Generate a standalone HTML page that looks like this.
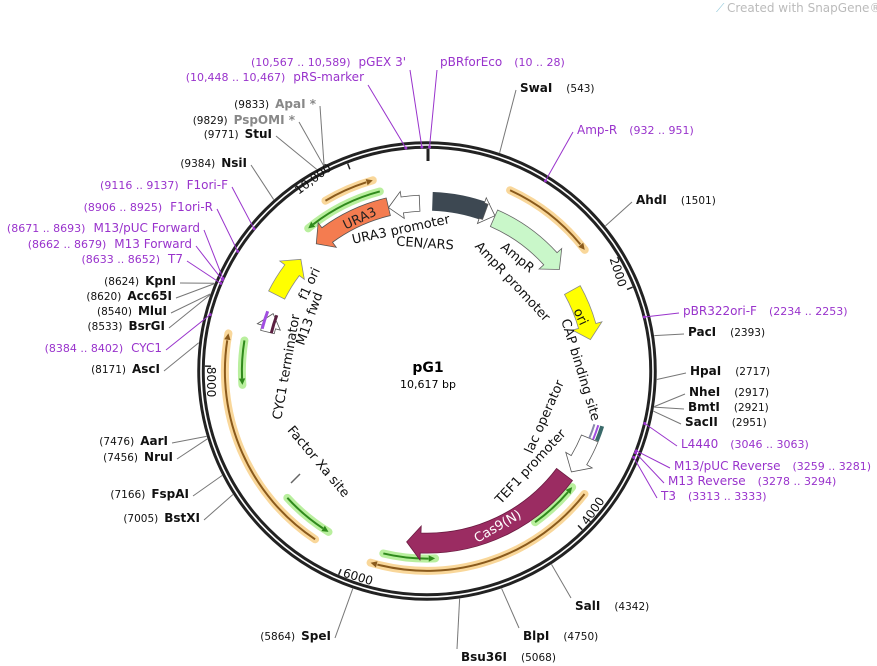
<!DOCTYPE html>
<html><head><meta charset="utf-8"><style>
html,body{margin:0;padding:0;background:#fff;}
svg{display:block;font-family:"DejaVu Sans","Liberation Sans",sans-serif;}
</style></head><body>
<svg id="s" width="877" height="666" viewBox="0 0 877 666" xmlns="http://www.w3.org/2000/svg">
<text x="727" y="12" font-size="12" fill="#bbb">Created with SnapGene®</text>
<text x="716" y="12" font-size="12" fill="#9cd">⟋</text>
<circle cx="427" cy="371" r="226" fill="none" stroke="#222" stroke-width="7.5"/>
<circle cx="427" cy="371" r="226" fill="none" stroke="#fff" stroke-width="1.6"/>
<line x1="428" y1="149" x2="428" y2="161" stroke="#222" stroke-width="3"/>
<g id="g"></g>
<text x="428" y="372" font-size="14" font-weight="bold" text-anchor="middle">pG1</text>
<text x="428" y="388" font-size="11" text-anchor="middle">10,617 bp</text>
</svg>
<script>
var NS="http://www.w3.org/2000/svg",G=document.getElementById('g'),CX=427,CY=371;
function el(t,a,txt){var e=document.createElementNS(NS,t);for(var k in a)e.setAttribute(k,a[k]);if(txt!=null)e.textContent=txt;G.appendChild(e);return e;}
function P(r,d){var a=d*Math.PI/180;return [CX+r*Math.sin(a),CY-r*Math.cos(a)];}
function PO(r,d){var a=d*Math.PI/180;return [429+r*Math.sin(a),383-r*Math.cos(a)];}
function conv(r,a){var p=PO(r,a),dx=p[0]-CX,dy=p[1]-CY;var na=Math.atan2(dx,-dy)*180/Math.PI;while(na-a>180)na-=360;while(a-na>180)na+=360;return [Math.hypot(dx,dy),na];}
function bpd(b){return b/10617*360;}
function arcPath(r,a0,a1){var p0=P(r,a0),p1=P(r,a1),la=Math.abs(a1-a0)>180?1:0,sw=a1>a0?1:0;return "M"+p0[0]+" "+p0[1]+" A"+r+" "+r+" 0 "+la+" "+sw+" "+p1[0]+" "+p1[1];}
function head(r,a,dir,col,sz){
 sz=sz||5;var t=P(r,a),b=a-dir*sz*180/Math.PI/r*1.6;var p1=P(r-sz*0.8,b),p2=P(r+sz*0.8,b);
 el('path',{d:"M"+t+" L"+p1+" L"+p2+" Z",fill:col});}
function prim(r,a0,a1,tip,kind){
 var c0=conv(r,a0),c1=conv(r,a1);var wasEnd=(tip==a1);r=(c0[0]+c1[0])/2;a0=c0[1];a1=c1[1];tip=wasEnd?a1:a0;
 var halo=kind=='o'?'#f9d79a':'#b9ef9e',line=kind=='o'?'#8a5a1c':'#2f8a1c';
 el('path',{d:arcPath(r,a0,a1),fill:'none',stroke:halo,'stroke-width':8,'stroke-linecap':'round'});
 var dir=wasEnd?(a1>a0?1:-1):(a0>a1?1:-1);
 var s=wasEnd?a0:a1,e=tip-dir*2;
 el('path',{d:arcPath(r,s,e),fill:'none',stroke:line,'stroke-width':2});
 head(r,tip,dir,line,4);}
function band(r1,r2,a0,a1,tipA,fill,stroke){
 var rm=(r1+r2)/2,hw=(r2-r1)/2,c0=conv(rm,a0),c1=conv(rm,a1);rm=(c0[0]+c1[0])/2;r1=rm-hw;r2=rm+hw;a0=c0[1];a1=c1[1];
 var s=stroke||'#666';
 if(tipA==null){var p=arcPath(r2,a0,a1)+" L"+P(r1,a1)+" "+arcPath(r1,a1,a0).replace(/^M[^A]*/,'')+" Z";
  el('path',{d:p,fill:fill,stroke:s,'stroke-width':0.8});return;}
 var dir=a1>a0?1:-1,hl=14*180/Math.PI/rm*dir;var hb=a1-hl,w=(r2-r1)*0.35;
 var d=arcPath(r2,a0,hb)+" L"+P(r2+w,hb)+" L"+P(rm,a1)+" L"+P(r1-w,hb)+" L"+P(r1,hb)+" "+arcPath(r1,hb,a0).replace(/^M[^A]*/,'')+" Z";
 el('path',{d:d,fill:fill,stroke:s,'stroke-width':0.8});}
function arcO(r,a0,a1,attrs){var c0=conv(r,a0),c1=conv(r,a1);attrs.d=arcPath((c0[0]+c1[0])/2,c0[1],c1[1]);attrs.fill='none';el('path',attrs);}
function rt(x,y,rot,txt,sz,col,w){el('text',{x:x,y:y,'font-size':sz||13,fill:col||'#111','font-weight':w||'normal','text-anchor':'middle','dominant-baseline':'central',transform:'rotate('+rot+' '+x+' '+y+')'},txt);}

prim(207,22.8,49.5,49.5,'o');
prim(210,-29.6,-15.5,-15.5,'o');
prim(200,-144,-76,-76,'o');
prim(190,125.5,198,198,'o');
prim(197,-14.4,-38,-38,'g');
prim(188,-77,-90.6,-90.6,'g');
prim(181,-129,-146,-146,'g');
prim(176,195,178,178,'g');
prim(176,142.7,126,126,'g');
band(172,190,1.2,18.5,null,'#3d4852','#3d4852');
band(172,188,18.2,21.5,21.5,'#fff','#555');
band(166,184,21.5,49,49,'#c9f7c9','#666');
band(160,178,57,75,75,'#ffff00','#888');
band(171,189,-13,-39,-39,'#f47c50','#555');
band(172,188,-3,-13,-13,'#fff','#555');
band(168,186,-60,-46,-46,'#ffff00','#888');
band(152,172,124,188,188,'#9b2c62','#6a1a40');
band(160,178,109,122,122,'#fff','#555');
band(163,177,-72.5,-66,-66,'#fff','#555');
arcO(166,-72.5,-66,{stroke:'#5a2040','stroke-width':3});
arcO(176,-72,-66,{stroke:'#a14ee0','stroke-width':3});
arcO(178,104,109,{stroke:'#3a6a6a','stroke-width':4});
arcO(174,104,109,{stroke:'#a14ee0','stroke-width':2});
arcO(170,104,109,{stroke:'#88a','stroke-width':2});
el('line',{x1:291,y1:483,x2:300,y2:474,stroke:'#666','stroke-width':1.5});

rt(360,219,-25,'URA3',13,'#222');
rt(401,230,-12,'URA3 promoter');
rt(425,244,4,'CEN/ARS');
rt(517,258,40,'AmpR');
rt(512,282,47,'AmpR promoter');
rt(580,317,65,'ori');
rt(580,370,73,'CAP binding site');
rt(545,417,-66,'lac operator');
rt(531,467,-47,'TEF1 promoter');
rt(498,527,-30,'Cas9(N)',13,'#fff');
rt(318,462,50,'Factor Xa site');
rt(287,367,-80,'CYC1 terminator');
rt(310,319,-70,'M13 fwd');
rt(310,284,-65,'f1 ori');
rt(313,179,-37,'10,000',12);
rt(618,272,72,'2000',12);
rt(593,511,-55,'4000',12);
rt(358,577,17,'6000',12);
rt(211,382,90,'8000',12);
[10000,2000,4000,6000,8000].forEach(function(t){var a=bpd(t),p=P(222,a),q=P(216,a);el('line',{x1:p[0],y1:p[1],x2:q[0],y2:q[1],stroke:'#222','stroke-width':1.5});});

var PUR='#9933cc';
var L=[[406,62,'(10,567 .. 10,589)','pGEX 3\'',10578,'p'],[364,77,'(10,448 .. 10,467)','pRS-marker',10457,'p'],
[316,104,'(9833)','ApaI *',9833,'x'],[295,120,'(9829)','PspOMI *',9829,'x'],[272,134,'(9771)','StuI',9771,'e'],
[247,163,'(9384)','NsiI',9384,'e'],[228,185,'(9116 .. 9137)','F1ori-F',9126,'p'],[213,207,'(8906 .. 8925)','F1ori-R',8915,'p'],
[200,228,'(8671 .. 8693)','M13/pUC Forward',8682,'p'],[192,244,'(8662 .. 8679)','M13 Forward',8670,'p'],[183,259,'(8633 .. 8652)','T7',8642,'p'],
[176,281,'(8624)','KpnI',8624,'e'],[172,296,'(8620)','Acc65I',8620,'e'],[167,311,'(8540)','MluI',8540,'e'],[165,326,'(8533)','BsrGI',8533,'e'],
[162,348,'(8384 .. 8402)','CYC1',8393,'p'],[160,369,'(8171)','AscI',8171,'e'],[168,441,'(7476)','AarI',7476,'e'],[173,457,'(7456)','NruI',7456,'e'],
[189,494,'(7166)','FspAI',7166,'e'],[200,518,'(7005)','BstXI',7005,'e'],[331,636,'(5864)','SpeI',5864,'e']];
L.forEach(function(l){var t=el('text',{x:l[0],y:l[1]+4,'text-anchor':'end','font-size':11});
 var c=l[5]=='p'?PUR:(l[5]=='x'?'#888':'#111');
 var s1=document.createElementNS(NS,'tspan');s1.setAttribute('fill',l[5]=='p'?PUR:'#111');s1.setAttribute('font-size',l[5]=='p'?11:10.5);s1.textContent=l[2];t.appendChild(s1);
 var s2=document.createElementNS(NS,'tspan');s2.setAttribute('dx',l[5]=='p'?8:6);s2.setAttribute('fill',c);s2.setAttribute('font-size',12);if(l[5]!='p')s2.setAttribute('font-weight','bold');s2.textContent=l[3];t.appendChild(s2);
 var p=P(l[5]=='p'?224:230,bpd(l[4]));var sx=l[0]+4,sy=l[1]+(l[1]<100?8:2);
 el('line',{x1:sx,y1:sy,x2:p[0],y2:p[1],stroke:l[5]=='p'?PUR:'#777','stroke-width':1});
 if(l[5]=='p')el('circle',{cx:p[0],cy:p[1],r:1.5,fill:PUR});});
var R=[[440,62,'pBRforEco','(10 .. 28)',19,'p'],[520,88,'SwaI','(543)',543,'e'],[577,130,'Amp-R','(932 .. 951)',941,'p'],[636,200,'AhdI','(1501)',1501,'e'],
[683,311,'pBR322ori-F','(2234 .. 2253)',2243,'p'],[688,332,'PacI','(2393)',2393,'e'],[690,371,'HpaI','(2717)',2717,'e'],[689,392,'NheI','(2917)',2917,'e'],
[688,407,'BmtI','(2921)',2921,'e'],[685,422,'SacII','(2951)',2951,'e'],[681,444,'L4440','(3046 .. 3063)',3054,'p'],[674,466,'M13/pUC Reverse','(3259 .. 3281)',3270,'p'],
[668,481,'M13 Reverse','(3278 .. 3294)',3286,'p'],[661,496,'T3','(3313 .. 3333)',3323,'p'],[575,606,'SalI','(4342)',4342,'e'],[523,636,'BlpI','(4750)',4750,'e'],[461,657,'Bsu36I','(5068)',5068,'e']];
R.forEach(function(l){var pp=l[5]=='p';var t=el('text',{x:l[0],y:l[1]+4,'font-size':12});
 var s1=document.createElementNS(NS,'tspan');s1.setAttribute('fill',pp?PUR:'#111');if(!pp)s1.setAttribute('font-weight','bold');s1.textContent=l[2];t.appendChild(s1);
 var s2=document.createElementNS(NS,'tspan');s2.setAttribute('dx',pp?12:14);s2.setAttribute('fill',pp?PUR:'#111');s2.setAttribute('font-size',pp?11:10.5);s2.textContent=l[3];t.appendChild(s2);
 var p=P(pp?224:230,bpd(l[4]));var sx=l[0]-4,sy=l[1]+(l[1]>580?-8:2);if(l[0]<470&&l[1]<70){sx=l[0]-3;sy=l[1]+8;}
 el('line',{x1:sx,y1:sy,x2:p[0],y2:p[1],stroke:pp?PUR:'#777','stroke-width':1});
 if(pp)el('circle',{cx:p[0],cy:p[1],r:1.5,fill:PUR});});
</script>
</body></html>
